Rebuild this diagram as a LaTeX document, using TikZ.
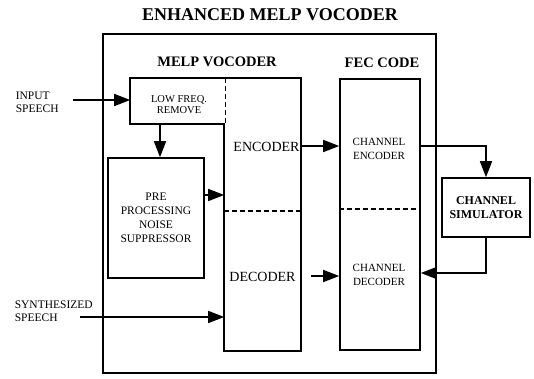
\documentclass[tikz,border=0pt]{standalone}
\usepackage{fontspec}
\setmainfont{Liberation Serif}
\usetikzlibrary{arrows.meta,calc}
\begin{document}
\begin{tikzpicture}[x=1pt,y=-1pt,
  line width=1.6pt,
  arr/.style={-{Triangle[length=16pt,width=12pt]}},
  dsh/.style={line width=1.3pt,dash pattern=on 5pt off 3pt},
  txt/.style={inner sep=0pt,align=center,font=\fontsize{11}{13.5}\selectfont},
  hdr/.style={inner sep=0pt,font=\bfseries\fontsize{14.5}{16}\selectfont},
  big/.style={inner sep=0pt,font=\fontsize{14}{16}\selectfont},
  blk/.style={draw,inner sep=0pt,align=center}
]
\useasboundingbox (0,0) rectangle (534,378);

% title and headers
\node[inner sep=0pt,font=\bfseries\fontsize{18}{20}\selectfont] (title) at (270,15) {ENHANCED MELP VOCODER};
\node[draw,minimum width=333pt,minimum height=339pt] (outer) at (269.5,203.5) {};
\node[hdr] (melphdr) at (217,62) {MELP VOCODER};
\node[hdr] (fechdr) at (382,63) {FEC CODE};

% MELP vocoder blocks
\node[minimum width=94pt,minimum height=44pt,inner sep=0pt] (lowfreq) at (178,101) {};
\node[txt,font=\fontsize{10.5}{11}\selectfont] (lowtxt) at (179,105) {LOW FREQ.\\REMOVE};
\node[minimum width=75pt,minimum height=271pt,inner sep=0pt] (enccol) at (262.5,214.5) {};
\draw (lowfreq.north west) -- (enccol.north east) -- (enccol.south east)
  -- (enccol.south west) -- (enccol.west |- lowfreq.south) -- (lowfreq.south west) -- cycle;
\draw[dsh] (lowfreq.north east) -- (lowfreq.south east);
\coordinate (yf) at (0,211);
\draw[dsh] (enccol.west |- yf) -- (enccol.east |- yf);
\node[big] (enctxt) at (266.5,147) {ENCODER};
\node[big] (dectxt) at (262.5,277) {DECODER};

\node[blk,minimum width=96pt,minimum height=120pt,font=\fontsize{11.5}{14}\selectfont] (preproc) at (156,218)
  {PRE\\PROCESSING\\NOISE\\SUPPRESSOR};

% FEC block
\node[blk,minimum width=80pt,minimum height=271pt] (fec) at (380,214.5) {};
\coordinate (yg) at (0,209);
\draw[dsh] (fec.west |- yg) -- (fec.east |- yg);
\node[txt] (chenc) at (379,149) {CHANNEL\\ENCODER};
\node[txt] (chdec) at (379,275) {CHANNEL\\DECODER};

% channel simulator
\node[blk,minimum width=88pt,minimum height=59pt,font=\bfseries\fontsize{12}{14}\selectfont] (sim) at (486,207.5)
  {CHANNEL\\SIMULATOR};

% side labels
\node[txt,align=left,anchor=west,font=\fontsize{11.5}{13}\selectfont] (inlbl) at (15,102.5) {INPUT\\SPEECH};
\node[txt,align=left,anchor=west,font=\fontsize{11.5}{13}\selectfont] (synlbl) at (14,311.5) {SYNTHESIZED\\SPEECH};

% helper coordinates
\coordinate (xa) at (160,0);
\coordinate (ya) at (0,195);
\coordinate (yb) at (0,146);
\coordinate (yc) at (0,273);
\coordinate (inS) at (73,100);
\coordinate (decout) at (311,276);
\coordinate (synS) at (80,317);

% connectors
\draw[arr] (inS) -- (lowfreq.west |- inS);
\draw[arr] (lowfreq.south -| xa) -- (preproc.north -| xa);
\draw[arr] (preproc.east |- ya) -- (enccol.west |- ya);
\draw[arr] (enccol.east |- yb) -- (fec.west |- yb);
\draw[arr] (fec.east |- yb) -| (sim.north);
\draw[arr] (sim.south) |- (fec.east |- yc);
\draw[arr] (decout) -- (fec.west |- decout);
\draw[arr] (synS) -- (enccol.west |- synS);
\end{tikzpicture}
\end{document}
